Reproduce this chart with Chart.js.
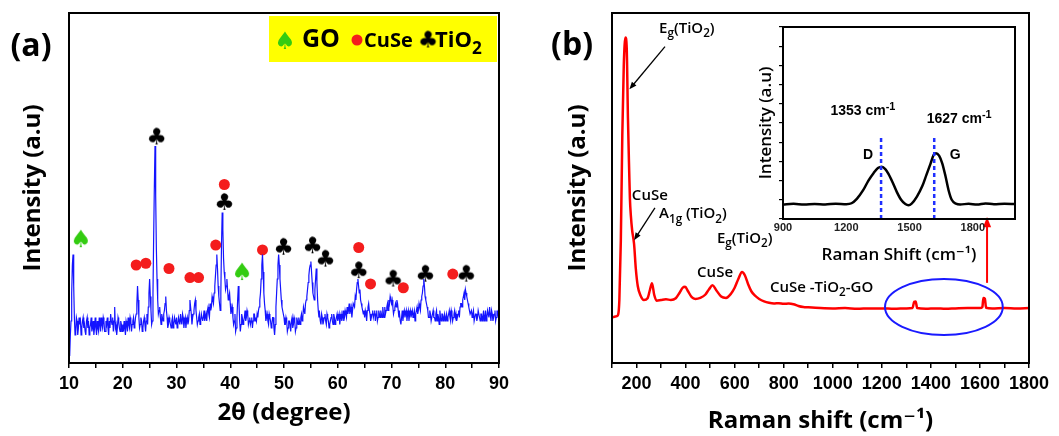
<!DOCTYPE html>
<html>
<head>
<meta charset="utf-8">
<script src="https://cdn.jsdelivr.net/npm/chart.js@4.4.1/dist/chart.umd.min.js"></script>
<style>
  html, body { margin: 0; padding: 0; background: #fff; }
  #wrap { position: relative; width: 1059px; height: 436px; overflow: hidden; }
  .box { position: absolute; }
</style>
</head>
<body>
<div id="wrap">
  <div class="box" style="left:0;top:0;width:530px;height:436px"><canvas id="xrd"></canvas></div>
  <div class="box" style="left:530px;top:0;width:529px;height:436px"><canvas id="raman"></canvas></div>
  <div class="box" style="left:730px;top:20px;width:295px;height:250px"><canvas id="inset"></canvas></div>
</div>
<script>
// ---- (a) XRD pattern, 10..90 deg every 0.125 deg ----
const xrdStart = 10;
const xrdStep = 0.125;
const xrdIntensity = [
  4, 2, 8, 12, 20, 28, 31, 22, 13, 8, 9, 13, 12, 8, 10, 13, 11, 12, 8, 10, 12, 13, 10, 11, 9, 8, 12, 13, 10, 12, 8, 10, 11, 13, 9, 10, 12, 8, 10, 13,              // 10
  10, 8, 12, 10, 9, 13, 11, 9, 13, 11, 10, 13, 12, 9, 9, 12, 11, 13, 10, 8, 12, 10, 14, 12, 11, 13, 9, 12, 16, 10, 11, 8, 10, 13, 12, 10, 9, 12, 11, 9,           // 15
  11, 9, 12, 10, 8, 12, 11, 9, 13, 11, 10, 13, 12, 9, 11, 12, 13, 10, 11, 13, 14, 17, 22, 18, 13, 10, 11, 13, 12, 9, 10, 12, 13, 11, 9, 12, 14, 11, 16, 20,       // 20
  24, 19, 15, 11, 12, 20, 36, 50, 62, 48, 33, 24, 18, 14, 15, 16, 13, 11, 14, 13, 12, 14, 15, 17, 19, 15, 13, 10, 11, 13, 12, 11, 10, 12, 13, 10, 11, 13, 12, 11, // 25
  13, 10, 11, 13, 12, 11, 14, 12, 11, 14, 13, 10, 12, 13, 10, 12, 13, 11, 12, 15, 18, 16, 14, 11, 13, 14, 15, 17, 18, 15, 13, 11, 12, 13, 14, 11, 12, 14, 13, 12, // 30
  13, 15, 12, 13, 14, 12, 15, 16, 14, 13, 17, 15, 16, 19, 18, 17, 20, 22, 25, 28, 31, 27, 22, 19, 17, 15, 20, 34, 43, 38, 30, 26, 24, 21, 22, 24, 21, 18, 19, 20, // 35
  17, 14, 15, 16, 13, 11, 12, 14, 9, 10, 13, 18, 22, 17, 12, 9, 11, 14, 13, 11, 12, 13, 15, 12, 13, 15, 14, 11, 12, 13, 11, 12, 13, 10, 12, 14, 14, 12, 13, 12,   // 40
  14, 13, 15, 16, 18, 20, 24, 28, 31, 26, 20, 17, 15, 12, 13, 14, 12, 11, 14, 13, 12, 10, 11, 13, 13, 10, 8, 11, 16, 20, 24, 28, 31, 28, 24, 21, 18, 16, 15, 14,  // 45
  13, 11, 11, 13, 12, 9, 10, 12, 12, 11, 9, 12, 13, 10, 11, 13, 12, 9, 10, 13, 12, 11, 13, 12, 11, 13, 14, 12, 13, 16, 15, 14, 17, 18, 19, 21, 23, 25, 27, 28,    // 50
  29, 26, 23, 20, 19, 18, 21, 24, 27, 23, 18, 15, 13, 14, 12, 11, 14, 13, 11, 12, 13, 14, 12, 11, 14, 13, 12, 10, 11, 12, 13, 14, 12, 11, 14, 13, 11, 12, 13, 14, // 55
  12, 13, 14, 11, 13, 14, 12, 13, 15, 12, 13, 15, 14, 13, 16, 14, 15, 17, 14, 15, 16, 13, 15, 17, 17, 16, 19, 18, 21, 23, 24, 22, 20, 21, 18, 17, 16, 15, 14, 15, // 60
  13, 15, 14, 12, 15, 16, 17, 15, 14, 12, 13, 14, 15, 13, 14, 15, 12, 14, 15, 12, 13, 15, 14, 13, 15, 14, 13, 16, 14, 13, 16, 14, 15, 16, 17, 15, 18, 17, 19, 18, // 65
  17, 18, 16, 14, 15, 16, 17, 16, 18, 17, 15, 13, 14, 12, 11, 13, 15, 12, 14, 15, 13, 14, 15, 12, 14, 15, 12, 14, 15, 13, 14, 15, 13, 14, 15, 12, 14, 15, 16, 14, // 70
  15, 17, 16, 15, 18, 19, 20, 22, 24, 22, 19, 18, 17, 16, 15, 13, 13, 15, 14, 12, 12, 14, 15, 13, 13, 12, 14, 15, 12, 14, 13, 11, 15, 13, 12, 14, 14, 12, 13, 14, // 75
  12, 13, 14, 12, 13, 14, 15, 13, 12, 15, 14, 12, 13, 14, 15, 13, 14, 12, 13, 14, 15, 13, 16, 17, 17, 16, 18, 19, 20, 18, 21, 20, 19, 18, 17, 16, 15, 14, 14, 15, // 80
  13, 14, 15, 12, 12, 14, 14, 12, 13, 15, 15, 13, 12, 14, 14, 12, 13, 15, 12, 13, 15, 12, 13, 15, 14, 13, 16, 14, 12, 15, 14, 12, 13, 14, 15, 12, 13, 15, 14, 15, // 85
  16                                                                                                                                                               // 90
];
// phase markers [2theta, height]
const goMarks = [[12.2, 35.1], [42.2, 25.7]];
const cuseMarks = [[22.5, 28], [24.3, 28.5], [28.6, 27], [32.5, 24.4], [34.1, 24.4], [37.3, 33.7],
  [38.9, 51], [46, 32.3], [63.9, 33], [66.1, 22.6], [72.2, 21.5], [81.4, 25.4]];
const tio2Marks = [[26.3, 64.3], [38.9, 45.6], [49.9, 32.8], [55.3, 33.2], [57.7, 29.4],
  [63.9, 26.1], [70.3, 23.7], [76.3, 25.1], [83.9, 25.1]];

// ---- (b) Raman spectrum ----
const ramanShift = [100, 110, 120, 125, 130, 136, 142, 148, 155, 160, 165, 170, 173, 177, 182, 190, 197, 205,
  215, 230, 245, 255, 263, 272, 282, 300, 320, 340, 360, 375, 388, 398, 410, 425, 440, 460, 480, 495, 510,
  525, 545, 565, 585, 600, 615, 630, 642, 655, 668, 682, 700, 720, 740, 760, 780, 800, 820, 840, 860, 880,
  900, 950, 1000, 1050, 1100, 1150, 1200, 1250, 1300, 1325, 1332, 1338, 1344, 1380, 1420, 1460, 1500,
  1550, 1600, 1610, 1614, 1620, 1625, 1650, 1700, 1750, 1800];
const ramanIntensity = [13, 13.2, 13.4, 13.8, 18, 35, 65, 85, 93, 90, 70, 55, 47, 42, 38, 34, 27, 22,
  19.5, 18, 18.5, 21, 22.8, 19.5, 17.8, 18, 18.2, 18, 18.5, 20, 21.5, 21.8, 20.5, 18.8, 18.3, 18.6, 19.5, 21, 22.2,
  20.8, 19, 18.6, 19.8, 21.5, 24, 26, 25, 22.5, 20.5, 19.3, 18.3, 17.6, 17.2, 17, 17.1, 16.9, 17, 16.8, 16.3, 16,
  15.9, 15.7, 15.6, 15.7, 15.5, 15.6, 15.6, 15.5, 15.6, 15.7, 17.5, 17.6, 15.7, 15.5, 15.6, 15.5, 15.6,
  15.7, 15.7, 16, 18.6, 18.4, 15.8, 15.6, 15.7, 15.6, 15.7];

// inset: D and G bands
const insetShift = [900, 950, 1000, 1050, 1100, 1150, 1200, 1225, 1250, 1280, 1305, 1330, 1350, 1368, 1385,
  1400, 1420, 1440, 1460, 1480, 1495, 1510, 1535, 1560, 1580, 1600, 1615, 1625, 1640, 1655, 1670, 1685,
  1700, 1720, 1740, 1780, 1820, 1860, 1900, 1950, 2000];
const insetIntensity = [7.6, 7.9, 7.5, 7.8, 7.6, 7.9, 7.7, 8.2, 10.5, 15, 20, 24, 26.5, 27.2, 26,
  23.5, 19, 14, 10, 7.8, 7.2, 8, 11.7, 17, 23, 29, 33.5, 34.3, 33, 29, 22.5, 15,
  10, 8, 7.6, 7.9, 7.5, 8.1, 7.7, 7.9, 7.8];
const bandPositions = [1365, 1617];

const FONT = '"Open Sans", "DejaVu Sans", sans-serif';
const TICKFONT = '"Liberation Sans", Arial, sans-serif';
Chart.defaults.color = '#000';

function glyph(ch, color, size) {
  const c = document.createElement('canvas');
  c.width = size + 4; c.height = size + 4;
  const g = c.getContext('2d');
  g.fillStyle = color;
  g.font = size + 'px "DejaVu Sans"';
  g.textAlign = 'center';
  g.textBaseline = 'middle';
  g.fillText(ch, c.width / 2, c.height / 2 + 1);
  return c;
}
const clubImg = glyph('\u2663', '#000', 23);
const spadeImg = glyph('\u2660', '#33cc11', 24);

function pts(xs, ys) { return xs.map((x, i) => ({x: x, y: ys[i]})); }
function pairs(list) { return list.map(p => ({x: p[0], y: p[1]})); }

// text with sub/superscripts: parts = [[text, 'sub'|'sup'|undefined], ...]
function richText(ctx, parts, x, y, size, weight, align, family) {
  const fonts = parts.map(p => weight + ' ' + (p[1] ? size * 0.78 : size) + 'px ' + (family || FONT));
  let total = 0;
  parts.forEach((p, i) => { ctx.font = fonts[i]; total += ctx.measureText(p[0]).width; });
  let cx = align === 'center' ? x - total / 2 : x;
  ctx.textAlign = 'left';
  ctx.textBaseline = 'alphabetic';
  parts.forEach((p, i) => {
    ctx.font = fonts[i];
    const dy = p[1] === 'sub' ? size * 0.3 : p[1] === 'sup' ? -size * 0.38 : 0;
    ctx.fillText(p[0], cx, y + dy);
    cx += ctx.measureText(p[0]).width;
  });
}

function drawArrow(ctx, x1, y1, x2, y2, color, width, head) {
  const a = Math.atan2(y2 - y1, x2 - x1);
  ctx.strokeStyle = color; ctx.fillStyle = color; ctx.lineWidth = width;
  ctx.beginPath();
  ctx.moveTo(x1, y1);
  ctx.lineTo(x2 - Math.cos(a) * head * 0.7, y2 - Math.sin(a) * head * 0.7);
  ctx.stroke();
  ctx.beginPath();
  ctx.moveTo(x2, y2);
  ctx.lineTo(x2 - head * Math.cos(a - 0.38), y2 - head * Math.sin(a - 0.38));
  ctx.lineTo(x2 - head * Math.cos(a + 0.38), y2 - head * Math.sin(a + 0.38));
  ctx.closePath();
  ctx.fill();
}

// frame round the plot area
const framePlugin = {
  id: 'frame',
  afterDraw(chart) {
    const {ctx, chartArea: a} = chart;
    ctx.save();
    ctx.strokeStyle = '#000';
    ctx.lineWidth = 2;
    ctx.strokeRect(a.left, a.top, a.right - a.left, a.bottom - a.top);
    ctx.restore();
  }
};

// labels, arrows, ellipse, dashed lines placed on the chart's scales
const notesPlugin = {
  id: 'notes',
  afterDatasetsDraw(chart, args, opts) {
    const ctx = chart.ctx;
    const px = v => chart.scales.x.getPixelForValue(v);
    const py = v => chart.scales.y.getPixelForValue(v);
    (opts.items || []).forEach(it => {
      ctx.save();
      ctx.fillStyle = it.color || '#000';
      if (it.type === 'text') {
        richText(ctx, it.parts, px(it.x), py(it.y), it.size, it.weight || '600', it.align, it.family);
      } else if (it.type === 'panel') {
        ctx.font = 'bold 32px ' + FONT;
        ctx.textAlign = 'center';
        ctx.textBaseline = 'middle';
        ctx.fillText(it.text, it.px, it.py);
      } else if (it.type === 'arrow') {
        drawArrow(ctx, px(it.x1), py(it.y1), px(it.x2), py(it.y2), it.color || '#000', it.width || 1.3, it.head || 8);
      } else if (it.type === 'ellipse') {
        const cx = px(it.x), cy = py(it.y);
        ctx.strokeStyle = it.color; ctx.lineWidth = 2;
        ctx.beginPath();
        ctx.ellipse(cx, cy, px(it.x + it.rx) - cx, cy - py(it.y + it.ry), 0, 0, Math.PI * 2);
        ctx.stroke();
      } else if (it.type === 'vlines') {
        ctx.strokeStyle = it.color; ctx.lineWidth = 2.5;
        ctx.setLineDash([4, 3]);
        it.xs.forEach(v => {
          ctx.beginPath();
          ctx.moveTo(px(v), py(it.y1));
          ctx.lineTo(px(v), py(it.y2));
          ctx.stroke();
        });
      }
      ctx.restore();
    });
  }
};

// yellow key box of panel (a)
const keyPlugin = {
  id: 'key',
  afterDatasetsDraw(chart) {
    const {ctx, chartArea: a} = chart;
    const x0 = a.right - 230, y0 = a.top + 3;
    ctx.save();
    ctx.fillStyle = '#ffff00';
    ctx.fillRect(x0, y0, 228, 46);
    ctx.drawImage(spadeImg, x0 + 16 - spadeImg.width / 2, y0 + 26 - spadeImg.height / 2);
    ctx.fillStyle = '#000';
    richText(ctx, [['GO']], x0 + 33, y0 + 31, 25, 'bold');
    ctx.fillStyle = '#f41d1d';
    ctx.beginPath();
    ctx.arc(x0 + 88, y0 + 24, 5.5, 0, Math.PI * 2);
    ctx.fill();
    ctx.fillStyle = '#000';
    richText(ctx, [['CuSe']], x0 + 95, y0 + 31, 20, 'bold');
    ctx.drawImage(clubImg, x0 + 159 - clubImg.width / 2, y0 + 25 - clubImg.height / 2);
    richText(ctx, [['TiO'], ['2', 'sub']], x0 + 166, y0 + 31, 22, 'bold');
    ctx.restore();
  }
};

function xAxis(min, max, step, every, height, title, titlePad) {
  return {
    type: 'linear', min: min, max: max,
    ticks: {
      stepSize: step, autoSkip: false, maxRotation: 0, padding: 5,
      font: {family: TICKFONT, size: 18, weight: 'bold'},
      callback: v => (v % every === 0 ? String(v) : '')
    },
    grid: {display: true, drawOnChartArea: false, drawTicks: true, tickLength: 5, color: '#000', lineWidth: 1.5},
    border: {display: false},
    title: {display: true, text: title, font: {family: FONT, size: 24, weight: 'bold', lineHeight: 1.2}, padding: {top: 0, bottom: titlePad}},
    afterFit(s) { s.height = height; }
  };
}

function yAxis(width, titlePad) {
  return {
    min: 0, max: 100,
    ticks: {display: false},
    grid: {display: false},
    border: {display: false},
    title: {display: true, text: 'Intensity (a.u)', font: {family: FONT, size: 24, weight: 'bold', lineHeight: 1.2}, padding: {top: titlePad, bottom: 0}},
    afterFit(s) { s.width = width; }
  };
}

const base = {
  responsive: true,
  maintainAspectRatio: false,
  animation: false,
  events: [],
  plugins: {legend: {display: false}, tooltip: {enabled: false}}
};

// (a)
new Chart(document.getElementById('xrd'), {
  type: 'scatter',
  data: {
    datasets: [
      {data: xrdIntensity.map((v, i) => ({x: xrdStart + i * xrdStep, y: v})), showLine: true,
        borderColor: '#1414ff', borderWidth: 1.2, pointRadius: 0},
      {data: pairs(cuseMarks), pointStyle: 'circle', pointRadius: 5.5, backgroundColor: '#f41d1d', borderWidth: 0},
      {data: pairs(tio2Marks), pointStyle: clubImg, pointRadius: 8},
      {data: pairs(goMarks), pointStyle: spadeImg, pointRadius: 8}
    ]
  },
  options: Object.assign({}, base, {
    layout: {padding: {left: 0, top: 13, right: 31, bottom: 0}},
    scales: {
      x: xAxis(10, 90, 5, 10, 73, '2\u03b8 (degree)', 8),
      y: yAxis(69, 19)
    },
    plugins: Object.assign({}, base.plugins, {
      notes: {items: [{type: 'panel', text: '(a)', px: 31, py: 47}]}
    })
  }),
  plugins: [keyPlugin, notesPlugin, framePlugin]
});

// (b)
const ramanNotes = [
  {type: 'panel', text: '(b)', px: 42, py: 46},
  {type: 'text', x: 292, y: 94.3, size: 15, parts: [['E'], ['g', 'sub'], ['(TiO'], ['2', 'sub'], [')']]},
  {type: 'arrow', x1: 316, y1: 90.4, x2: 171, y2: 78.2},
  {type: 'text', x: 181, y: 46.6, size: 15, parts: [['CuSe']]},
  {type: 'arrow', x1: 275, y1: 44.3, x2: 190, y2: 35.1},
  {type: 'text', x: 292, y: 41.4, size: 15, parts: [['A'], ['1g', 'sub'], [' (TiO'], ['2', 'sub'], [')']]},
  {type: 'text', x: 528, y: 34.3, size: 15, parts: [['E'], ['g', 'sub'], ['(TiO'], ['2', 'sub'], [')']]},
  {type: 'text', x: 447, y: 24.6, size: 15, parts: [['CuSe']]},
  {type: 'text', x: 744, y: 20.3, size: 15, parts: [['CuSe -TiO'], ['2', 'sub'], ['-GO']]},
  {type: 'ellipse', x: 1453, y: 16, rx: 240, ry: 8, color: '#1a1aff'},
  {type: 'arrow', x1: 1629, y1: 22.9, x2: 1629, y2: 41.7, color: '#ff0000', width: 2, head: 11}
];

new Chart(document.getElementById('raman'), {
  type: 'scatter',
  data: {
    datasets: [{
      data: pts(ramanShift, ramanIntensity), showLine: true, borderColor: '#ff0000', borderWidth: 2.5,
      pointRadius: 0, cubicInterpolationMode: 'monotone'
    }]
  },
  options: Object.assign({}, base, {
    layout: {padding: {left: 0, top: 13, right: 30, bottom: 0}},
    scales: {
      x: xAxis(100, 1800, 100, 200, 73, 'Raman shift (cm\u207b\u00b9)', 0),
      y: yAxis(82, 34)
    },
    plugins: Object.assign({}, base.plugins, {notes: {items: ramanNotes}})
  }),
  plugins: [notesPlugin, framePlugin]
});

// inset
const insetNotes = [
  {type: 'vlines', xs: bandPositions, y1: 0, y2: 42.9, color: '#1f2fff'},
  {type: 'text', x: 1279, y: 54, size: 14, weight: 'bold', align: 'center', family: TICKFONT, parts: [['1353 cm'], ['-1', 'sup']]},
  {type: 'text', x: 1735, y: 50, size: 14, weight: 'bold', align: 'center', family: TICKFONT, parts: [['1627 cm'], ['-1', 'sup']]},
  {type: 'text', x: 1303, y: 31, size: 14, weight: 'bold', align: 'center', family: TICKFONT, parts: [['D']]},
  {type: 'text', x: 1716, y: 31, size: 14, weight: 'bold', align: 'center', family: TICKFONT, parts: [['G']]}
];

new Chart(document.getElementById('inset'), {
  type: 'scatter',
  data: {
    datasets: [{
      data: pts(insetShift, insetIntensity), showLine: true, borderColor: '#000', borderWidth: 2.5,
      pointRadius: 0, cubicInterpolationMode: 'monotone'
    }]
  },
  options: Object.assign({}, base, {
    layout: {padding: {left: 0, top: 7, right: 10, bottom: 0}},
    scales: {
      x: {
        type: 'linear', min: 900, max: 2000,
        ticks: {stepSize: 300, includeBounds: false, autoSkip: false, maxRotation: 0, padding: 2,
          color: '#222', font: {family: TICKFONT, size: 11, weight: 'bold'}, callback: v => String(v)},
        grid: {display: false, drawTicks: false},
        border: {display: false},
        title: {display: true, text: 'Raman Shift (cm\u207b\u00b9)', font: {family: FONT, size: 17, weight: '600', lineHeight: 1.2}, padding: {top: 0, bottom: 5}},
        afterFit(s) { s.height = 51; }
      },
      y: {
        min: 0, max: 100,
        ticks: {stepSize: 10, display: false},
        grid: {display: true, drawOnChartArea: false, drawTicks: true, tickLength: 4, color: '#000', lineWidth: 1.2},
        border: {display: false},
        title: {display: true, text: 'Intensity (a.u)', font: {family: FONT, size: 17, weight: '600', lineHeight: 1.2}, padding: {top: 26, bottom: 0}},
        afterFit(s) { s.width = 53; }
      }
    },
    plugins: Object.assign({}, base.plugins, {notes: {items: insetNotes}})
  }),
  plugins: [notesPlugin, framePlugin]
});
</script>
</body>
</html>
